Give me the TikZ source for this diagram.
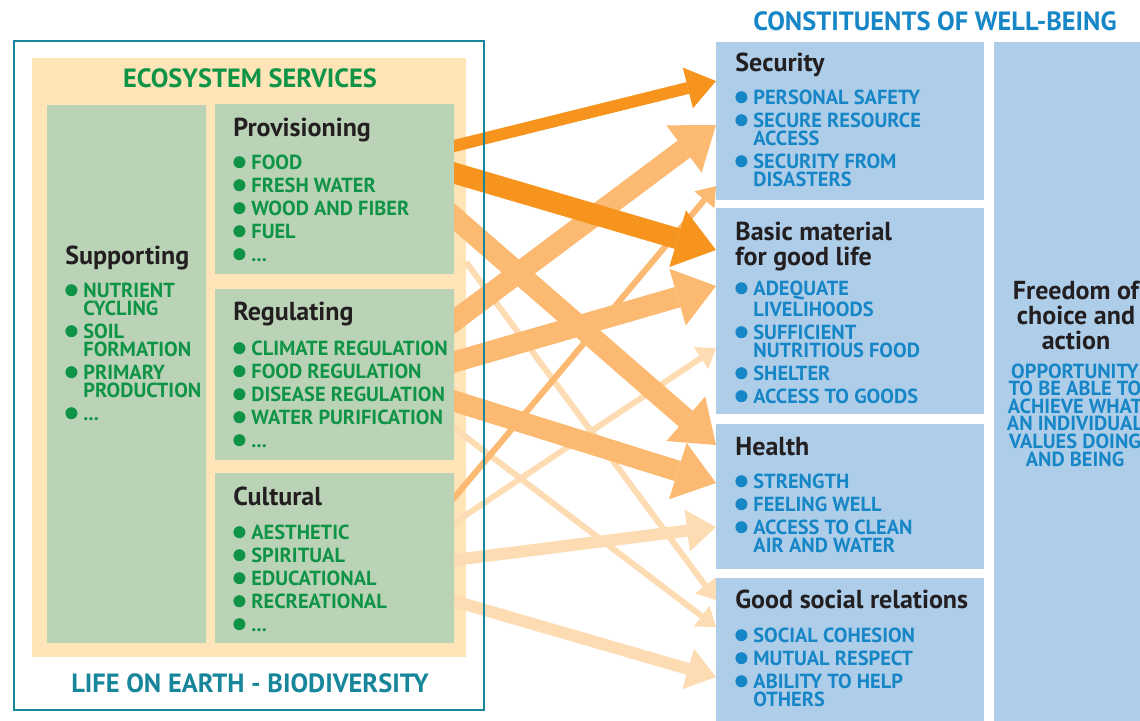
\documentclass[tikz,border=0pt]{standalone}
\usepackage{fontspec}
\setmainfont{PT Sans}
\usetikzlibrary{arrows.meta,positioning,calc}

\definecolor{frameteal}{HTML}{17869B}
\definecolor{esgreen}{HTML}{0F9447}
\definecolor{boxgreen}{HTML}{BAD3B6}
\definecolor{cream}{HTML}{FEE4B6}
\definecolor{boxblue}{HTML}{AECDE9}
\definecolor{wbblue}{HTML}{1686C6}
\definecolor{darktext}{HTML}{231F20}
\definecolor{orhigh}{HTML}{F7941E}
\definecolor{ormid}{HTML}{FBB971}
\definecolor{orlow}{HTML}{FDDBB3}

\newcommand{\gdot}{\tikz[baseline=-3.4pt]\fill[esgreen] (3pt,0) circle (3pt);\hspace{3pt}}
\newcommand{\bdot}{\tikz[baseline=-3.4pt]\fill[wbblue] (3pt,0) circle (3pt);\hspace{3pt}}
\newcommand{\hang}{\hspace*{9pt}}

\begin{document}
\begin{tikzpicture}[x=0.5pt,y=-0.5pt,
    box/.style={anchor=north west,inner sep=0pt,outer sep=0pt},
    svcbox/.style={box,fill=boxgreen},
    wbbox/.style={box,fill=boxblue},
    headtext/.style={anchor=base west,inner sep=0pt,align=left,text=darktext,
        font=\bfseries\fontsize{13}{12.5}\selectfont},
    svclist/.style={anchor=base west,inner sep=0pt,align=left,text=esgreen,
        font=\bfseries\fontsize{10.2}{9}\selectfont},
    wblist/.style={svclist,text=wbblue},
    bigcaps/.style={anchor=base,inner sep=0pt,font=\bfseries\fontsize{13.2}{13}\selectfont},
    linkweak/.style={line width=3pt,shorten <=-12pt,
        -{Triangle[width=13pt,length=9pt,line width=0pt]}},
    linkmed/.style={line width=6pt,shorten <=-12pt,
        -{Triangle[width=21pt,length=14.5pt,line width=0pt]}},
    linkstrong/.style={line width=10.5pt,shorten <=-12pt,
        -{Triangle[width=29.5pt,length=20pt,line width=0pt]}}]

    \useasboundingbox[fill=white] (0,0) rectangle (1140,720);

    %%%% Ecosystem services =========================
    % Boxes
    \node[box,minimum width=235pt,minimum height=334.5pt] (frame) at (14,41) {};
    \node[box,fill=cream,minimum width=217pt,minimum height=299.5pt] (cream) at (32,58) {};
    \node[svcbox,minimum width=79.5pt,minimum height=269pt] (supp) at (47,105) {};
    \node[svcbox,minimum width=119.5pt,minimum height=85pt] (prov) at (215,104) {};
    \node[svcbox,minimum width=119.5pt,minimum height=85.5pt] (reg) at (215,289) {};
    \node[svcbox,minimum width=119.5pt,minimum height=85pt] (cult) at (215,473) {};

    % Titles
    \node[bigcaps,text=esgreen] (estitle) at (250,87) {ECOSYSTEM SERVICES};
    \node[bigcaps,text=frameteal] (lifetitle) at (250,692) {LIFE ON EARTH - BIODIVERSITY};
    \node[headtext] (supphead) at (65,264) {Supporting};
    \node[headtext] (provhead) at (233,136) {Provisioning};
    \node[headtext] (reghead) at (233,320) {Regulating};
    \node[headtext] (culthead) at (233,505) {Cultural};

    % Lists (placed at the baseline of their last line)
    \node[svclist] (supplist) at (65,420) {\gdot NUTRIENT\\ \hang CYCLING\\[2.5pt]
        \gdot SOIL\\ \hang FORMATION\\[2.5pt] \gdot PRIMARY\\ \hang PRODUCTION\\[2.5pt] \gdot ...};
    \node[svclist] (provlist) at (233,261) {\gdot FOOD\\[2.5pt] \gdot FRESH WATER\\[2.5pt]
        \gdot WOOD AND FIBER\\[2.5pt] \gdot FUEL\\[2.5pt] \gdot ...};
    \node[svclist] (reglist) at (233,447) {\gdot CLIMATE REGULATION\\[2.5pt] \gdot FOOD REGULATION\\[2.5pt]
        \gdot DISEASE REGULATION\\[2.5pt] \gdot WATER PURIFICATION\\[2.5pt] \gdot ...};
    \node[svclist] (cultlist) at (233,631) {\gdot AESTHETIC\\[2.5pt] \gdot SPIRITUAL\\[2.5pt]
        \gdot EDUCATIONAL\\[2.5pt] \gdot RECREATIONAL\\[2.5pt] \gdot ...};

    %%%% Constituents of well-being =================
    % Boxes
    \node[wbbox,minimum width=134pt,minimum height=79pt] (sec) at (716,42) {};
    \node[wbbox,minimum width=134pt,minimum height=103pt] (basic) at (716,208) {};
    \node[wbbox,minimum width=134pt,minimum height=72.5pt] (health) at (716,424) {};
    \node[wbbox,minimum width=134pt,minimum height=80pt] (social) at (716,578) {};
    \node[wbbox,minimum width=80pt,minimum height=345pt] (free) at (994,42) {};

    % Titles
    \node[bigcaps,text=wbblue] (wbtitle) at (935,30) {CONSTITUENTS OF WELL-BEING};
    \node[headtext] (sechead) at (735,71) {Security};
    \node[headtext] (basichead) at (735,265) {Basic material\\for good life};
    \node[headtext] (healthhead) at (735,455) {Health};
    \node[headtext] (socialhead) at (735,608) {Good social relations};
    \node[headtext,anchor=base,align=center] (freehead) at (1076,349.5) {Freedom of\\choice and\\action};

    % Lists
    \node[wblist] (seclist) at (735,186) {\bdot PERSONAL SAFETY\\[2.5pt] \bdot SECURE RESOURCE\\ \hang ACCESS\\[2.5pt]
        \bdot SECURITY FROM\\ \hang DISASTERS};
    \node[wblist] (basiclist) at (735,403) {\bdot ADEQUATE\\ \hang LIVELIHOODS\\[2.5pt] \bdot SUFFICIENT\\
        \hang NUTRITIOUS FOOD\\[2.5pt] \bdot SHELTER\\[2.5pt] \bdot ACCESS TO GOODS};
    \node[wblist] (healthlist) at (735,552) {\bdot STRENGTH\\[2.5pt] \bdot FEELING WELL\\[2.5pt]
        \bdot ACCESS TO CLEAN\\ \hang AIR AND WATER};
    \node[wblist] (sociallist) at (735,706) {\bdot SOCIAL COHESION\\[2.5pt] \bdot MUTUAL RESPECT\\[2.5pt]
        \bdot ABILITY TO HELP\\ \hang OTHERS};
    \node[anchor=base,align=center,inner sep=0pt,text=wbblue,
        font=\bfseries\fontsize{10.2}{8.8}\selectfont] (freetext) at (1075,466)
        {OPPORTUNITY\\TO BE ABLE TO\\ACHIEVE WHAT\\AN INDIVIDUAL\\VALUES DOING\\AND BEING};

    %%%% Links =======================================
    \begin{scope}
        \clip (prov.east |- 0,0) rectangle (1140,720);
        % Low
        \draw[linkweak,orlow,shorten <=0pt] (cream.east |- 0,262) -- (social.west |- 0,600);
        \draw[linkweak,orlow] (reg.east |- 0,428) -- (social.west |- 0,627);
        \draw[linkweak,orlow] (cult.east |- 0,523) -- (basic.west |- 0,348);
        \draw[linkmed,orlow] (cult.east |- 0,560) -- (health.west |- 0,527);
        \draw[linkmed,orlow] (cult.east |- 0,601) -- (social.west |- 0,677);
        % Medium
        \draw[linkweak,ormid] (cult.east |- 0,498) -- (sec.west |- 0,186);
        \draw[linkstrong,ormid] (prov.east |- 0,217) -- (health.west |- 0,445);
        \draw[linkstrong,ormid] (reg.east |- 0,321) -- (sec.west |- 0,125);
        \draw[linkstrong,ormid] (reg.east |- 0,362) -- (basic.west |- 0,286);
        \draw[linkstrong,ormid] (reg.east |- 0,401) -- (health.west |- 0,483);
        % High
        \draw[linkmed,orhigh] (prov.east |- 0,146) -- (sec.west |- 0,81);
        \draw[linkstrong,orhigh] (prov.east |- 0,173) -- (basic.west |- 0,250);
    \end{scope}

    % Frame on top
    \draw[frameteal,line width=1.2pt] (frame.north west) rectangle (frame.south east);
\end{tikzpicture}
\end{document}
